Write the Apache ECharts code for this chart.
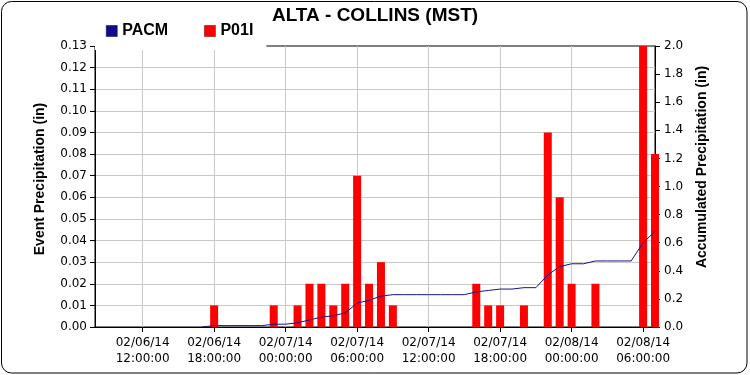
<!DOCTYPE html>
<html>
<head>
<meta charset="utf-8">
<script src="https://cdn.jsdelivr.net/npm/echarts@6/dist/echarts.min.js"></script>
<style>
html,body{margin:0;padding:0;background:#fff;}
#chart{width:750px;height:375px;}
</style>
</head>
<body>
<div id="chart"></div>
<script>
// ---- data ----
const titleText = 'ALTA - COLLINS (MST)';
const xMinTime = '2014-02-06 08:00';
const xMaxTime = '2014-02-08 07:00';
const xTickTimes = ['2014-02-06 12:00','2014-02-06 18:00','2014-02-07 00:00','2014-02-07 06:00',
                    '2014-02-07 12:00','2014-02-07 18:00','2014-02-08 00:00','2014-02-08 06:00'];

const p01iTimes = ['2014-02-06 18:00','2014-02-06 23:00','2014-02-07 01:00','2014-02-07 02:00',
                   '2014-02-07 03:00','2014-02-07 04:00','2014-02-07 05:00','2014-02-07 06:00',
                   '2014-02-07 07:00','2014-02-07 08:00','2014-02-07 09:00','2014-02-07 16:00',
                   '2014-02-07 17:00','2014-02-07 18:00','2014-02-07 20:00','2014-02-07 22:00',
                   '2014-02-07 23:00','2014-02-08 00:00','2014-02-08 02:00','2014-02-08 06:00',
                   '2014-02-08 07:00'];
const p01iValues = [0.01,0.01,0.01,0.02,0.02,0.01,0.02,0.07,0.02,0.03,0.01,0.02,0.01,0.01,0.01,
                    0.09,0.06,0.02,0.02,0.13,0.08];

const pacmTimes = ['2014-02-06 17:00','2014-02-06 18:00','2014-02-06 19:00','2014-02-06 20:00',
                   '2014-02-06 21:00','2014-02-06 22:00','2014-02-06 23:00','2014-02-07 00:00',
                   '2014-02-07 01:00','2014-02-07 02:00','2014-02-07 03:00','2014-02-07 04:00',
                   '2014-02-07 05:00','2014-02-07 06:00','2014-02-07 07:00','2014-02-07 08:00',
                   '2014-02-07 09:00','2014-02-07 10:00','2014-02-07 11:00','2014-02-07 12:00',
                   '2014-02-07 13:00','2014-02-07 14:00','2014-02-07 15:00','2014-02-07 16:00',
                   '2014-02-07 17:00','2014-02-07 18:00','2014-02-07 19:00','2014-02-07 20:00',
                   '2014-02-07 21:00','2014-02-07 22:00','2014-02-07 23:00','2014-02-08 00:00',
                   '2014-02-08 01:00','2014-02-08 02:00','2014-02-08 03:00','2014-02-08 04:00',
                   '2014-02-08 05:00','2014-02-08 06:00','2014-02-08 07:00'];
const pacmValues = [0,0.01,0.01,0.01,0.01,0.01,0.02,0.02,
                    0.03,0.05,0.07,0.08,0.10,0.17,0.19,0.22,
                    0.23,0.23,0.23,0.23,0.23,0.23,0.23,0.25,
                    0.26,0.27,0.27,0.28,0.28,0.37,0.43,0.45,
                    0.45,0.47,0.47,0.47,0.47,0.60,0.68];

const leftAxisName = 'Event Precipitation (in)';
const rightAxisName = 'Accumulated Precipitation (in)';

// ---- helpers ----
function toMs(s){
  const [d,t] = s.split(' ');
  const [Y,M,D] = d.split('-').map(Number);
  const [h,m] = t.split(':').map(Number);
  return Date.UTC(Y, M-1, D, h, m);
}
function pad(n){return (n<10?'0':'')+n;}
function fmtTime(v){
  const d = new Date(v);
  return pad(d.getUTCMonth()+1)+'/'+pad(d.getUTCDate())+'/'+pad(d.getUTCFullYear()%100)+'\n'+
         pad(d.getUTCHours())+':'+pad(d.getUTCMinutes())+':'+pad(d.getUTCSeconds());
}
const tickVals = xTickTimes.map(toMs);
const barData = p01iTimes.map((t,i)=>[toMs(t), p01iValues[i]]);
const lineData = pacmTimes.map((t,i)=>[toMs(t), pacmValues[i]]);

const tickFont = {fontFamily:'DejaVu Sans', fontSize:12, color:'#000'};

const chart = echarts.init(document.getElementById('chart'), null, {renderer:'canvas'});
chart.setOption({
  animation:false,
  backgroundColor:'#fff',
  title:{
    text:titleText, left:'center', top:1,
    textStyle:{fontFamily:'Liberation Sans', fontWeight:'bold', fontSize:19, color:'#000'}
  },
  legend:{
    left:95, top:19, padding:[4,13,11,11],
    backgroundColor:'#fff',
    itemWidth:11, itemHeight:11, itemGap:36,
    textStyle:{fontFamily:'Liberation Sans', fontWeight:'bold', fontSize:16, color:'#000'},
    data:[{name:'PACM', icon:'rect', itemStyle:{color:'#0c0c8c', borderColor:'#000040', borderWidth:0.5}},
          {name:'P01I', icon:'rect', itemStyle:{color:'#ff0000', borderColor:'#600000', borderWidth:0.5}}]
  },
  grid:{left:95, right:95, top:46, bottom:48, show:true, borderColor:'#000', borderWidth:1, backgroundColor:'transparent'},
  xAxis:{
    type:'value', min:toMs(xMinTime), max:toMs(xMaxTime),
    axisLine:{lineStyle:{color:'#000', width:1}},
    axisTick:{customValues:tickVals, length:5, lineStyle:{color:'#000'}},
    axisLabel:Object.assign({customValues:tickVals, margin:8, lineHeight:16, formatter:fmtTime}, tickFont),
    splitLine:{show:true, lineStyle:{color:'#c8c8c8', width:1}}
  },
  yAxis:[{
    type:'value', min:0, max:0.13, interval:0.01, position:'left',
    axisLine:{show:true, lineStyle:{color:'#000'}},
    axisTick:{show:true, length:5, lineStyle:{color:'#000'}},
    axisLabel:Object.assign({margin:8, formatter:v=>v.toFixed(2)}, tickFont),
    splitLine:{show:true, showMinLine:false, showMaxLine:false, lineStyle:{color:'#c8c8c8', width:1}}
  },{
    type:'value', min:0, max:2, interval:0.2, position:'right',
    axisLine:{show:true, lineStyle:{color:'#000'}},
    axisTick:{show:true, length:5, lineStyle:{color:'#000'}},
    axisLabel:Object.assign({margin:9, formatter:v=>v.toFixed(1)}, tickFont),
    splitLine:{show:false}
  }],
  graphic:[
    {type:'rect', shape:{x:1.5, y:1.5, width:745.5, height:371.5, r:10}, style:{fill:'none', stroke:'#000', lineWidth:1}, silent:true},
    {type:'text', x:40, y:179, rotation:Math.PI/2,
     style:{text:leftAxisName, fontFamily:'Liberation Sans', fontWeight:'bold', fontSize:14, fill:'#000', align:'center', verticalAlign:'middle'}},
    {type:'text', x:702, y:167, rotation:Math.PI/2,
     style:{text:rightAxisName, fontFamily:'Liberation Sans', fontWeight:'bold', fontSize:14, fill:'#000', align:'center', verticalAlign:'middle'}}
  ],
  series:[{
    name:'P01I', type:'bar', yAxisIndex:0, data:barData, barWidth:8, clip:true,
    itemStyle:{color:'#ff0000'}
  },{
    name:'PACM', type:'line', yAxisIndex:1, data:lineData, showSymbol:false, symbol:'none',
    lineStyle:{color:'#14148c', width:1}, itemStyle:{color:'#0c0c8c'}, z:3
  }]
});
</script>
</body>
</html>
